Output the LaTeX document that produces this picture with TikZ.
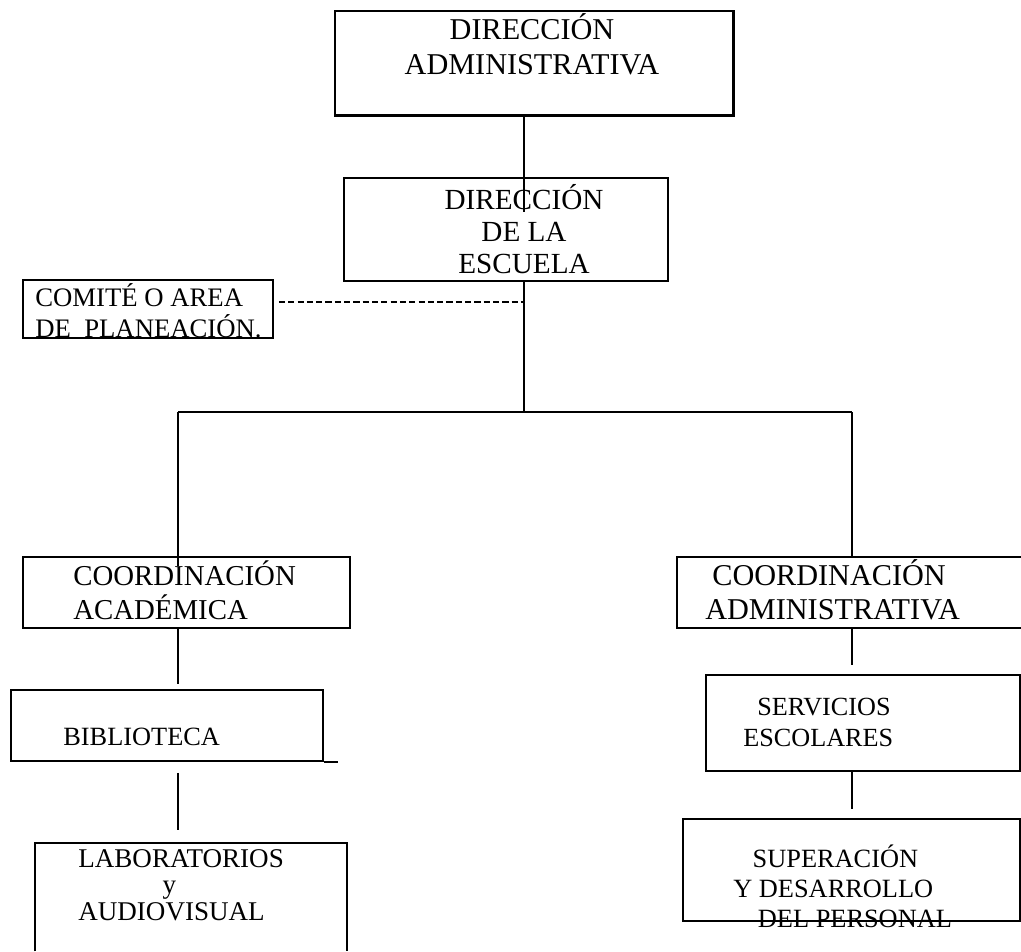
\documentclass[tikz,border=0pt]{standalone}
\usepackage{fontspec}
\setmainfont{Liberation Serif}
\usetikzlibrary{fit}

\begin{document}
\begin{tikzpicture}[x=0.02cm, y=-0.02cm,
    caja/.style={draw, line width=1pt, inner sep=0pt},
    hueca/.style={inner sep=0pt},
    texto/.style n args={2}{anchor=base west, inner sep=0pt, align=left,
      font={\fontsize{#1}{#2}\selectfont}},
    linea/.style={line width=0.8pt}]
  \useasboundingbox (0,0) rectangle (1021,951);
  % cajas
  \node[caja, line width=1.7pt, fit={(335,11) (733,115)}] (dadm) {};
  \node[caja, fit={(344,178) (668,281)}] (ddir) {};
  \node[caja, fit={(23,280) (273,338)}] (comite) {};
  \node[caja, fit={(23,557) (350,628)}] (cacad) {};
  \node[hueca, fit={(677,557) (1021,628)}] (cadm) {};
  \draw[line width=1pt] (cadm.north east) -- (cadm.north west) -- (cadm.south west) -- (cadm.south east);
  \node[caja, fit={(11,690) (323,761)}] (biblio) {};
  \draw[line width=1pt] (biblio.south east) -- ++(14,0);
  \node[hueca, fit={(35,843) (347,951)}] (lab) {};
  \draw[line width=1pt] (lab.south west) -- (lab.north west) -- (lab.north east) -- (lab.south east);
  \node[caja, fit={(706,675) (1020,771)}] (serv) {};
  \node[caja, fit={(683,819) (1020,921)}] (sup) {};
  % textos (el ancla va en la linea de base de la ultima linea)
  \node[texto={17.2}{19.9}, anchor=base, align=center] (t-dadm) at (532,74) {DIRECCIÓN\\ADMINISTRATIVA};
  \node[texto={16.6}{18}, anchor=base, align=center] (t-ddir) at (524,273) {DIRECCIÓN\\DE LA\\ESCUELA};
  \node[texto={15.2}{17.6}] (t-comite) at (35,337) {COMITÉ O AREA\\DE\ \ PLANEACIÓN.};
  \node[texto={16.4}{18.8}] (t-cacad) at (73,619) {COORDINACIÓN\\ACADÉMICA};
  \node[texto={17.2}{18.8}] (t-cadm) at (705,619) {\hspace*{4pt}COORDINACIÓN\\ADMINISTRATIVA};
  \node[texto={15}{17}] (t-biblio) at (63,745) {BIBLIOTECA};
  \node[texto={15.4}{15}] (t-lab) at (78,920) {LABORATORIOS\\\hspace*{48pt}y\\AUDIOVISUAL};
  \node[texto={14.9}{17.6}] (t-serv) at (743,746) {\hspace*{8pt}SERVICIOS\\ESCOLARES};
  \node[texto={15}{16.8}] (t-sup) at (733,927) {\hspace*{11pt}SUPERACIÓN\\Y DESARROLLO\\\hspace*{14pt}DEL PERSONAL};
  % conectores
  \coordinate (izq) at (178,412);
  \coordinate (cen) at (524,412);
  \coordinate (der) at (852,412);
  \coordinate (plan) at (524,302);
  \draw[linea, shorten >=-0.7cm] (cen |- dadm.south) -- (cen |- ddir.north);
  \draw[linea] (cen |- ddir.south) -- (cen);
  \draw[linea, dash pattern=on 3.5pt off 1.8pt, shorten <=0.1cm] (comite.east |- plan) -- (plan);
  \draw[linea] (izq) -- (der);
  \draw[linea, shorten >=-0.2cm] (izq) -- (izq |- cacad.north);
  \draw[linea] (der) -- (der |- cadm.north);
  \draw[linea, shorten >=0.1cm] (izq |- cacad.south) -- (izq |- biblio.north);
  \draw[linea, shorten <=0.22cm, shorten >=0.26cm] (izq |- biblio.south) -- (izq |- lab.north);
  \draw[linea, shorten >=0.18cm] (der |- cadm.south) -- (der |- serv.north);
  \draw[linea, shorten >=0.18cm] (der |- serv.south) -- (der |- sup.north);
\end{tikzpicture}
\end{document}
